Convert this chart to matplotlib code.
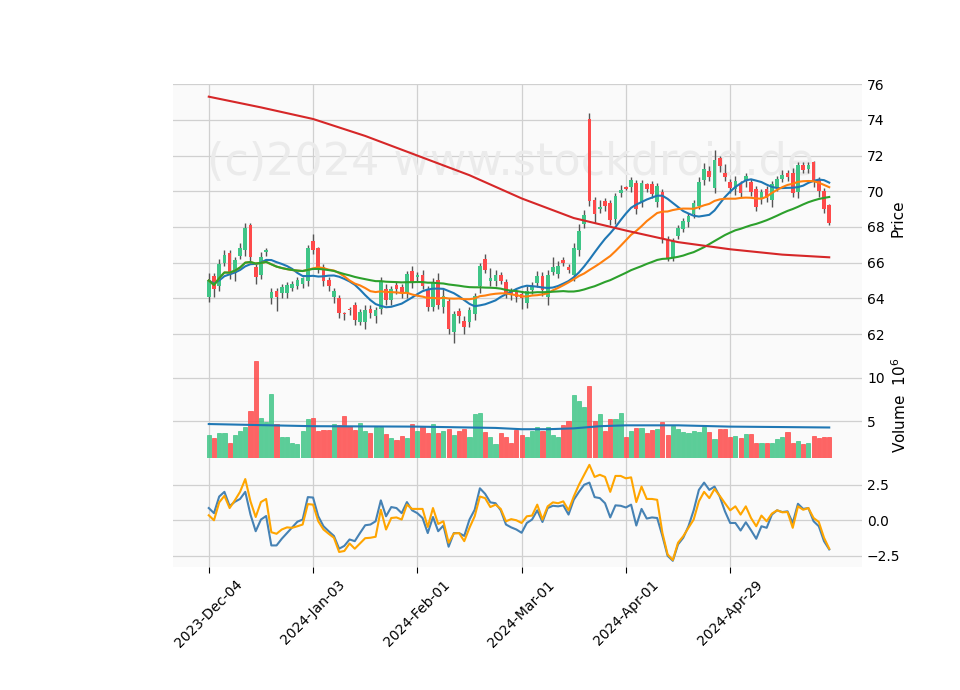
import matplotlib
matplotlib.use("Agg")
import matplotlib.pyplot as plt
import numpy as np
import pandas as pd

tick_labels = ["2023-Dec-04", "2024-Jan-03", "2024-Feb-01", "2024-Mar-01", "2024-Apr-01", "2024-Apr-29"]
tick_index = [0, 20, 40, 60, 80, 100]

opens = [64.1, 65.2, 64.7, 66.0, 66.5, 65.4, 66.4, 66.7, 68.1, 65.7,
         65.3, 66.6, 64.0, 64.4, 64.3, 64.3, 64.6, 64.7, 64.8, 65.0,
         67.2, 66.8, 65.7, 65.0, 64.05, 64.0, 63.15, 63.4, 63.6, 62.7,
         62.7, 63.4, 63.0, 63.4, 64.5, 63.9, 64.7, 64.6, 64.3, 65.5,
         65.2, 65.3, 64.5, 63.5, 65.0, 63.5, 63.8, 62.1, 63.25, 62.7,
         62.7, 63.1, 64.7, 66.2, 65.0, 65.0, 65.3, 64.9, 64.4, 64.3,
         64.2, 63.75, 64.45, 64.85, 65.25, 64.1, 65.5, 65.35, 66.1, 65.7,
         65.3, 66.7, 68.15, 74.0, 69.5, 69.0, 69.45, 69.3, 68.45, 69.9,
         70.2, 70.25, 70.45, 69.4, 70.35, 70.35, 69.4, 69.95, 67.3, 66.3,
         67.5, 67.9, 68.3, 68.7, 69.2, 70.65, 71.1, 70.2, 71.85, 71.0,
         70.5, 70.1, 70.35, 70.55, 70.5, 70.1, 69.6, 70.1, 69.5, 70.2,
         70.7, 71.0, 71.0, 69.95, 71.45, 71.25, 71.6, 70.6, 70.0, 69.2]
closes = [65.0, 64.5, 65.9, 66.4, 65.4, 66.1, 66.8, 67.9, 66.3, 65.2,
          66.3, 66.7, 64.3, 64.1, 64.6, 64.7, 64.8, 65.0, 65.1, 66.8,
          66.7, 65.7, 65.0, 64.7, 64.4, 63.2, 63.1, 63.35, 62.8, 63.2,
          63.3, 63.2, 63.3, 64.9, 63.9, 64.5, 64.55, 64.3, 65.35, 64.9,
          65.3, 64.7, 63.5, 64.85, 63.6, 64.1, 62.3, 63.1, 63.0, 62.4,
          63.3, 64.1, 65.8, 65.6, 65.1, 65.3, 65.0, 64.3, 64.2, 64.1,
          64.0, 64.4, 64.6, 65.25, 64.45, 65.3, 65.7, 65.8, 66.0, 65.6,
          66.8, 67.75, 68.65, 69.45, 68.7, 69.1, 69.2, 68.4, 69.7, 70.05,
          70.15, 70.6, 69.0, 70.45, 70.15, 69.85, 70.25, 67.3, 66.2, 67.2,
          67.9, 68.3, 68.6, 69.3, 70.5, 71.2, 70.8, 71.7, 71.4, 70.8,
          70.2, 70.55, 69.9, 70.8, 69.95, 69.1, 69.95, 69.6, 70.4, 70.65,
          70.9, 70.8, 69.9, 71.45, 71.2, 71.45, 70.55, 70.0, 69.0, 68.2]
upper_wick = [0.4, 0.2, 0.3, 0.3, 0.2, 0.2, 0.3, 0.3, 0.1, 0.2,
              0.3, 0.1, 0.3, 0.2, 0.2, 0.2, 0.2, 0.2, 0.1, 0.2,
              0.4, 0.1, 0.2, 0.2, 0.2, 0.2, 0.1, 0.1, 0.2, 0.2,
              0.3, 0.2, 0.2, 0.3, 0.3, 0.2, 0.2, 0.2, 0.2, 0.3,
              0.2, 0.3, 0.2, 0.3, 0.4, 0.4, 0.2, 0.2, 0.2, 0.3,
              0.2, 0.2, 0.2, 0.3, 0.6, 0.3, 0.2, 0.2, 0.2, 0.2,
              0.2, 0.3, 0.3, 0.3, 0.2, 0.3, 0.6, 0.3, 0.2, 0.2,
              0.3, 0.4, 0.3, 0.4, 0.2, 0.4, 0.2, 0.2, 0.2, 0.3,
              0.1, 0.2, 0.2, 0.2, 0.1, 0.2, 0.2, 0.2, 0.2, 0.2,
              0.2, 0.2, 0.2, 0.2, 0.3, 0.4, 0.3, 0.6, 0.1, 0.5,
              0.2, 0.3, 0.2, 0.2, 0.2, 0.2, 0.2, 0.2, 0.2, 0.2,
              0.3, 0.2, 0.3, 0.2, 0.2, 0.2, 0.1, 0.2, 0.2, 0.1]
lower_wick = [0.3, 0.4, 0.3, 0.2, 0.3, 0.4, 0.2, 0.3, 0.3, 0.4,
              0.2, 0.2, 0.3, 0.8, 0.3, 0.3, 0.2, 0.2, 0.2, 0.3,
              0.2, 0.3, 0.3, 0.3, 0.3, 0.3, 0.3, 0.3, 0.3, 0.2,
              0.4, 0.3, 0.4, 0.3, 0.3, 0.3, 0.3, 0.3, 0.3, 0.3,
              0.3, 0.2, 0.2, 0.2, 0.2, 0.3, 0.3, 0.6, 0.4, 0.4,
              0.3, 0.3, 0.4, 0.2, 0.3, 0.3, 0.2, 0.3, 0.3, 0.3,
              0.6, 0.3, 0.2, 0.2, 0.3, 0.5, 0.2, 0.2, 0.2, 0.2,
              0.3, 0.3, 0.2, 0.3, 0.5, 0.2, 0.3, 0.3, 0.3, 0.2,
              0.1, 0.3, 0.3, 0.3, 0.2, 0.2, 0.3, 0.2, 0.1, 0.2,
              0.2, 0.2, 0.3, 0.2, 0.2, 0.3, 0.2, 0.3, 0.3, 0.2,
              0.3, 0.3, 0.2, 0.3, 0.2, 0.2, 0.3, 0.2, 0.4, 0.2,
              0.2, 0.2, 0.2, 0.3, 0.2, 0.2, 0.3, 0.3, 0.2, 0.1]
volumes = [3.4, 3.0, 3.6, 3.6, 2.4, 3.4, 3.8, 4.3, 6.2, 12.0,
           5.4, 4.9, 8.1, 4.6, 3.2, 3.1, 2.5, 2.3, 3.8, 5.2,
           5.4, 3.8, 4.0, 4.0, 4.7, 4.5, 5.6, 4.4, 4.0, 4.8,
           3.8, 3.65, 4.3, 4.3, 3.45, 3.0, 2.8, 3.3, 3.0, 4.6,
           3.8, 4.4, 3.6, 4.6, 3.6, 3.9, 4.1, 3.4, 3.8, 4.05,
           3.1, 5.8, 5.9, 3.7, 3.1, 2.3, 3.6, 3.1, 2.5, 4.0,
           3.4, 3.1, 3.8, 4.3, 3.8, 4.3, 3.4, 3.1, 4.5, 5.0,
           8.0, 7.3, 6.6, 9.0, 5.0, 5.8, 3.9, 5.2, 5.2, 5.9,
           3.2, 3.8, 4.2, 4.2, 3.6, 4.0, 4.1, 4.9, 3.4, 4.4,
           4.05, 3.7, 3.6, 3.8, 3.7, 4.3, 3.7, 2.9, 4.05, 4.05,
           3.1, 3.3, 3.0, 3.45, 3.5, 2.4, 2.4, 2.4, 2.4, 2.9,
           3.2, 3.7, 2.4, 2.7, 2.3, 2.5, 3.3, 3.0, 3.1, 3.1]
vol_ma_idx = [0, 20, 40, 55, 60, 65, 70, 75, 80, 90, 100, 110, 119]
vol_ma_val = [4.65, 4.4, 4.35, 4.2, 4.05, 4.05, 4.15, 4.4, 4.5, 4.5, 4.35, 4.3, 4.25]
ma200_idx = [0, 10, 20, 30, 40, 50, 60, 70, 80, 90, 100, 110, 119]
ma200_val = [75.3, 74.7, 74.05, 73.1, 72.0, 70.9, 69.6, 68.5, 67.8, 67.15, 66.75, 66.45, 66.3]
osc_blue = [0.86, 0.5, 1.67, 2.0, 1.0, 1.3, 1.5, 2.0, 0.4, -0.77,
            0.05, 0.3, -1.77, -1.77, -1.3, -0.9, -0.5, -0.1, 0.05, 1.63,
            1.6, 0.28, -0.42, -0.77, -1.1, -2.0, -1.8, -1.35, -1.47, -0.9,
            -0.35, -0.3, -0.07, 1.4, 0.28, 0.93, 0.86, 0.5, 1.28, 0.7,
            0.5, 0.16, -0.9, 0.23, -0.77, -0.37, -1.86, -0.9, -0.9, -1.1,
            0.05, 0.74, 2.25, 1.86, 1.26, 1.2, 0.7, -0.3, -0.5, -0.65,
            -0.88, -0.19, 0.05, 0.7, -0.12, 0.86, 1.02, 0.98, 1.05, 0.4,
            1.44, 2.0, 2.5, 2.65, 1.63, 1.56, 1.2, 0.2, 1.05, 1.02,
            0.9, 1.1, -0.37, 0.8, 0.12, 0.2, 0.16, -1.1, -2.5, -2.85,
            -1.7, -1.23, -0.42, 0.7, 2.14, 2.65, 2.14, 2.37, 1.67, 0.63,
            -0.19, -0.19, -0.72, -0.14, -0.7, -1.3, -0.42, -0.53, 0.4, 0.7,
            0.58, 0.63, -0.19, 1.16, 0.8, 0.86, -0.07, -0.42, -1.47, -2.05]
osc_orange = [0.35, 0.0, 1.26, 1.72, 0.86, 1.4, 2.0, 2.9, 1.33, 0.23,
              1.28, 1.5, -0.84, -0.95, -0.65, -0.5, -0.53, -0.42, -0.3, 1.14,
              1.1, -0.07, -0.65, -0.95, -1.23, -2.23, -2.16, -1.63, -2.0, -1.63,
              -1.26, -1.23, -1.16, 0.74, -0.65, 0.16, 0.2, 0.05, 1.1, 0.8,
              0.8, 0.8, -0.47, 0.86, -0.26, -0.07, -1.58, -0.93, -0.9, -1.47,
              -0.53, 0.28, 1.67, 1.56, 0.93, 1.1, 0.8, -0.07, 0.08, 0.0,
              -0.19, 0.28, 0.33, 1.1, 0.05, 0.98, 1.26, 1.2, 1.33, 0.7,
              1.67, 2.5, 3.2, 3.9, 3.05, 3.2, 3.05, 2.0, 3.12, 3.12,
              2.95, 3.02, 1.28, 2.37, 1.5, 1.5, 1.44, -0.88, -2.4, -2.8,
              -1.58, -1.12, -0.53, 0.05, 1.33, 2.0, 1.56, 2.2, 1.72, 1.2,
              0.7, 0.98, 0.4, 0.98, 0.16, -0.42, 0.33, -0.07, 0.47, 0.7,
              0.56, 0.58, -0.53, 0.98, 0.74, 0.86, 0.16, -0.12, -1.23, -2.0]

up_c = "#3fc587"
dn_c = "#fe4a4a"
bg = "#fafafa"
grid_c = "#d0d0d0"

o = np.array(opens); c = np.array(closes)
hi = np.maximum(o, c) + np.array(upper_wick)
lo = np.minimum(o, c) - np.array(lower_wick)
x = np.arange(len(c))
cols = np.where(c >= o, up_c, dn_c)
cs = pd.Series(c)

fig = plt.figure(figsize=(9.6, 6.9), dpi=100)
L, W = 0.18, 0.718
ax1 = fig.add_axes([L, 0.490, W, 0.388])
ax2 = fig.add_axes([L, 0.336, W, 0.154], sharex=ax1)
ax3 = fig.add_axes([L, 0.178, W, 0.158], sharex=ax1)

for ax in (ax1, ax2, ax3):
    ax.set_facecolor(bg)
    ax.grid(True, color=grid_c, linewidth=0.9)
    ax.set_axisbelow(True)
    for s in ax.spines.values():
        s.set_visible(False)
    ax.yaxis.tick_right()
    ax.yaxis.set_label_position("right")
    ax.tick_params(axis="y", length=0, labelsize=10)
    ax.tick_params(axis="x", length=4)

# candles
ax1.vlines(x, lo, hi, color="#555555", linewidth=1.0, zorder=2)
ax1.bar(x, np.abs(c - o) + 0.03, bottom=np.minimum(o, c), width=0.7, color=cols, zorder=3)
ax1.plot(x, cs.rolling(10, min_periods=1).mean().ewm(span=3).mean(), color="#1f77b4", lw=1.5, zorder=4)
ax1.plot(x, cs.rolling(20, min_periods=1).mean(), color="#ff7f0e", lw=1.5, zorder=4)
ax1.plot(x, cs.rolling(50, min_periods=1).mean(), color="#2ca02c", lw=1.5, zorder=4)
ax1.plot(ma200_idx, ma200_val, color="#d62728", lw=1.5, zorder=4)
ax1.set_ylim(61.0, 76.0)
ax1.set_yticks([62, 64, 66, 68, 70, 72, 74, 76])
ax1.set_ylabel("Price", fontsize=11)
ax1.text(0.05, 0.66, "(c)2024 www.stockdroid.de", transform=ax1.transAxes,
         fontsize=32, color="#ebebeb", zorder=1)
plt.setp(ax1.get_xticklabels(), visible=False)

# volume
ax2.bar(x, volumes, width=0.8, color=cols, alpha=0.85, edgecolor=cols, linewidth=0.6)
ax2.plot(vol_ma_idx, vol_ma_val, color="#1f77b4", lw=1.5)
ax2.set_ylim(0.7, 13.0)
ax2.set_yticks([5, 10])
ax2.set_ylabel("Volume  $10^6$", fontsize=11)
plt.setp(ax2.get_xticklabels(), visible=False)

# oscillator
ax3.plot(x, osc_blue, color="#4682b4", lw=1.5)
ax3.plot(x, osc_orange, color="#ffa500", lw=1.5)
ax3.set_ylim(-3.3, 4.37)
ax3.set_yticks([-2.5, 0.0, 2.5])
ax3.set_xlim(-6.9, 125.3)
ax3.set_xticks(tick_index)
ax3.set_xticklabels(tick_labels, rotation=45, ha="center", fontsize=10)

fig.savefig("out.png", dpi=100)
